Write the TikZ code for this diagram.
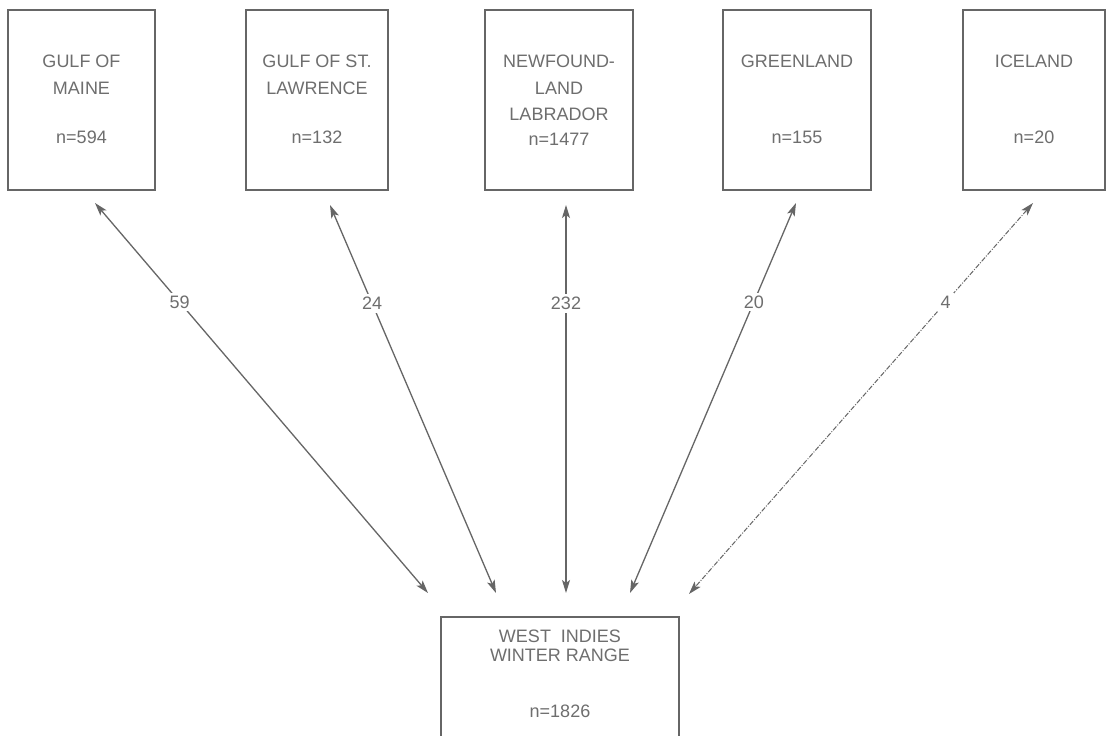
\documentclass[tikz,border=0pt]{standalone}
\usepackage{fontspec}
\setmainfont{Liberation Sans}
\usetikzlibrary{arrows.meta}
\definecolor{ink}{HTML}{6E6E6E}
\definecolor{lineink}{HTML}{666666}
\tikzset{
  region/.style={draw=lineink, line width=1.3pt, minimum height=180pt, inner sep=0pt},
  txt/.style={anchor=base, inner sep=0pt, text=ink, font=\fontsize{18}{20}\selectfont},
  tip/.style={Stealth[length=13pt,width=8pt,inset=3pt]},
  arr/.style={draw=lineink, line width=1.3pt, {Stealth[length=13pt,width=8pt,inset=3pt]}-{Stealth[length=13pt,width=8pt,inset=3pt]}},
  dasharr/.style={draw=lineink, line width=1pt, dash pattern=on 5pt off 1.5pt on 1pt off 1.5pt, {Stealth[length=13pt,width=8pt,inset=3pt]}-{Stealth[length=13pt,width=8pt,inset=3pt]}},
  lbl/.style={fill=white, inner sep=3pt, text=ink, font=\fontsize{18}{20}\selectfont, pos=0.254}
}
\begin{document}
\begin{tikzpicture}[x=1pt,y=-1pt]
\useasboundingbox (0,0) rectangle (1112,736);
\clip (0,0) rectangle (1112,736);
\fill[white] (0,0) rectangle (1112,736);
% region boxes
\node[region, minimum width=147pt] (gm) at (81.5,100) {};
\node[region, minimum width=142pt] (gs) at (317,100) {};
\node[region, minimum width=148pt] (nl) at (559,100) {};
\node[region, minimum width=148pt] (gr) at (797,100) {};
\node[region, minimum width=142pt] (ic) at (1034,100) {};
\node[region, minimum width=238pt, minimum height=140pt] (wi) at (560,687) {};
% texts
\node[txt] (gm1) at (81.5,67) {GULF OF};
\node[txt] (gm2) at (81.5,94) {MAINE};
\node[txt] (gm3) at (81.5,143) {n=594};
\node[txt] (gs1) at (317,67) {GULF OF ST.};
\node[txt] (gs2) at (317,94) {LAWRENCE};
\node[txt] (gs3) at (317,143) {n=132};
\node[txt] (nl1) at (559,67) {NEWFOUND-};
\node[txt] (nl2) at (559,94) {LAND};
\node[txt] (nl3) at (559,120) {LABRADOR};
\node[txt] (nl4) at (559,145) {n=1477};
\node[txt] (gr1) at (797,67) {GREENLAND};
\node[txt] (gr2) at (797,143) {n=155};
\node[txt] (ic1) at (1034,67) {ICELAND};
\node[txt] (ic2) at (1034,143) {n=20};
\node[txt] (wi1) at (560,642) {WEST\ \ INDIES};
\node[txt] (wi2) at (560,661) {WINTER RANGE};
\node[txt] (wi3) at (560,717) {n=1826};
% arrow ends
\coordinate (t1) at (95,203);   \coordinate (b1) at (428,593);
\coordinate (t2) at (330,205);  \coordinate (b2) at (496,593);
\coordinate (t3) at (566,205);  \coordinate (b3) at (566,593);
\coordinate (t4) at (796,203);  \coordinate (b4) at (630,593);
\coordinate (t5) at (1033,203); \coordinate (b5) at (689,594);
\draw[arr] (t1) -- node[lbl] (l1) {59} (b1);
\draw[arr] (t2) -- node[lbl] (l2) {24} (b2);
\draw[arr] (t3) -- node[lbl] (l3) {232} (b3);
\draw[arr] (t4) -- node[lbl] (l4) {20} (b4);
\draw[dasharr] (t5) -- node[lbl] (l5) {4} (b5);
\end{tikzpicture}
\end{document}
